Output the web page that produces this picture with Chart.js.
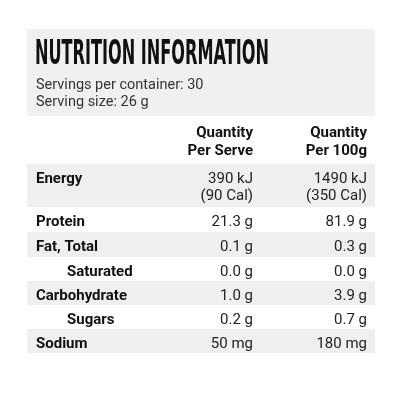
<!DOCTYPE html>
<html><head><meta charset="utf-8">
<script src="https://cdn.jsdelivr.net/npm/chart.js@4"></script>
<style>html,body{margin:0;padding:0;background:#fff}#c{display:block}</style>
</head><body>
<canvas id="c" width="400" height="400"></canvas>
<script>
const title = "NUTRITION INFORMATION";
const servingInfo = ["Servings per container: 30", "Serving size: 26 g"];
const columnHeaders = [["Quantity","Per Serve"],["Quantity","Per 100g"]];
const nutrients = ["Energy","Protein","Fat, Total","Saturated","Carbohydrate","Sugars","Sodium"];
const subRow = [false,false,false,true,false,true,false];
const perServe = [["390 kJ","(90 Cal)"],["21.3 g"],["0.1 g"],["0.0 g"],["1.0 g"],["0.2 g"],["50 mg"]];
const per100g = [["1490 kJ","(350 Cal)"],["81.9 g"],["0.3 g"],["0.0 g"],["3.9 g"],["0.7 g"],["180 mg"]];

const tablePlugin = {
  id:'table',
  afterDraw(chart){
    const ctx = chart.ctx, X = chart.scales.x, Y = chart.scales.y;
    const px = v => X.getPixelForValue(v), py = v => Y.getPixelForValue(v);
    ctx.save();
    // header box
    ctx.fillStyle = '#f0f0f0';
    ctx.fillRect(px(27), py(29), px(375)-px(27), py(116)-py(29));
    // title condensed
    ctx.fillStyle = '#111';
    ctx.font = 'bold 33px "DejaVu Sans"';
    ctx.textBaseline = 'alphabetic';
    const w = ctx.measureText(title).width;
    ctx.save();
    ctx.translate(px(35), py(64));
    ctx.scale(234 / w, 1);
    ctx.fillText(title, 0, 0);
    ctx.restore();
    ctx.fillStyle = '#333';
    ctx.font = '14.5px Roboto';
    ctx.fillText(servingInfo[0], px(36), py(89));
    ctx.fillText(servingInfo[1], px(36), py(106));
    // column headers
    ctx.fillStyle = '#111';
    ctx.font = 'bold 15px Roboto';
    ctx.textAlign = 'right';
    const colX = [253, 367];
    columnHeaders.forEach((h,i)=>{
      ctx.fillText(h[0], px(colX[i]), py(137));
      ctx.fillText(h[1], px(colX[i]), py(155));
    });
    // rows
    const tops = [164,207,232,257,281,305,329,353];
    nutrients.forEach((n,i)=>{
      if (i % 2 === 0) {
        ctx.fillStyle = '#efefef';
        ctx.fillRect(px(27), py(tops[i]), px(375)-px(27), py(tops[i+1])-py(tops[i]));
      }
      const base = tops[i] + 19;
      ctx.textAlign = 'left';
      ctx.fillStyle = '#111';
      ctx.font = 'bold 15px Roboto';
      ctx.fillText(n, px(subRow[i] ? 67 : 36), py(base));
      ctx.textAlign = 'right';
      ctx.fillStyle = '#222';
      ctx.font = '15px Roboto';
      [perServe[i], per100g[i]].forEach((vals,c)=>{
        vals.forEach((v,k)=> ctx.fillText(v, px(colX[c]), py(base + k*17)));
      });
    });
    ctx.restore();
  }
};

new Chart(document.getElementById('c'), {
  type:'scatter',
  data:{datasets:[{data:[]}]},
  options:{
    responsive:false, animation:false,
    layout:{padding:0},
    plugins:{legend:{display:false}, tooltip:{enabled:false}},
    scales:{
      x:{type:'linear', min:0, max:400, display:false},
      y:{type:'linear', min:0, max:400, reverse:true, display:false}
    }
  },
  plugins:[tablePlugin]
});
</script>
</body></html>
